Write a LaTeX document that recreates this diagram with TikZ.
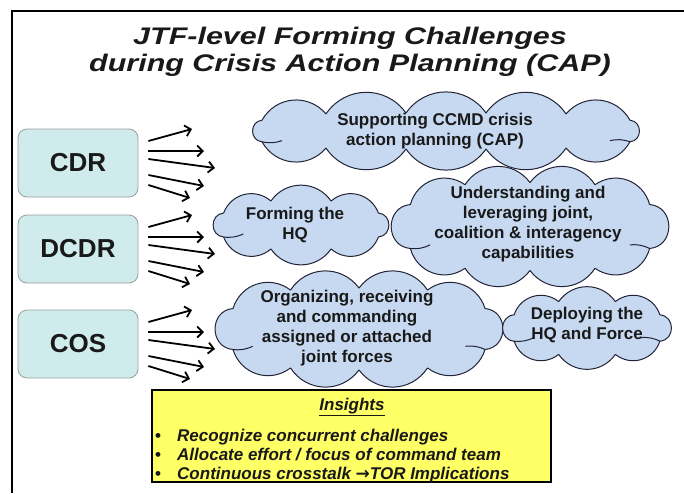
\documentclass[tikz,border=0pt]{standalone}
\usepackage{fontspec}
\setmainfont{Liberation Sans}
\newfontfamily\titlefont{Liberation Sans}[FakeStretch=1.27]
\newfontfamily\arrowfont{DejaVu Sans}
\usetikzlibrary{arrows.meta,calc}
\definecolor{boxteal}{RGB}{208,235,235}
\definecolor{boxedge}{RGB}{150,160,160}
\definecolor{cloudblue}{RGB}{198,217,241}
\definecolor{cloudedge}{RGB}{35,35,55}
\definecolor{insightyellow}{RGB}{255,255,102}
\definecolor{inktext}{RGB}{25,25,25}
% puff junctions: u/v (relative to half track sizes) / bend / looseness of the puff ending there
\def\puffsXII{0.92/-0.6/55/1.1, 0.92/0.6/85/1.5, 0.6/0.95/55/1.1, 0.2/1/55/1.1,
  -0.2/1/55/1.1, -0.6/0.95/55/1.1, -0.92/0.6/55/1.1, -0.92/-0.6/85/1.5,
  -0.6/-0.95/55/1.1, -0.2/-1/55/1.1, 0.2/-1/55/1.1, 0.6/-0.95/55/1.1}
\def\puffsX{0.92/-0.5/55/1.1, 0.92/0.5/85/1.5, 0.5/0.95/55/1.1, 0/1/55/1.1,
  -0.5/0.95/55/1.1, -0.92/0.5/55/1.1, -0.92/-0.5/85/1.5, -0.5/-0.95/55/1.1,
  0/-1/55/1.1, 0.5/-0.95/55/1.1}
\def\puffsVIII{0.9/-0.5/55/1.1, 0.9/0.5/85/1.5, 0.35/1/55/1.1, -0.35/1/55/1.1,
  -0.9/0.5/55/1.1, -0.9/-0.5/85/1.5, -0.35/-1/55/1.1, 0.35/-1/55/1.1}
% #1 name, #2 cx, #3 cy, #4 half track width, #5 half track height, #6 list macro
\newcommand{\puffcloud}[6]{%
  \coordinate (#1-c) at (#2,#3);
  \foreach \u/\v/\bd/\ls [count=\i] in #6 {
    \coordinate (#1-p\i) at ({#2+#4*\u},{#3+#5*\v});
    \xdef\puffcount{\i}
  }
  \draw[cloudline] (#1-p\puffcount)
    \foreach \u/\v/\bd/\ls [count=\i] in #6 { to[bend left=\bd, looseness=\ls] (#1-p\i) }
    -- cycle;
}
\newcommand{\cloudstroke}[2]{%
  \draw[cloudinner] (#1-p#2) to[bend right=15] ($(#1-p#2)!20pt!(#1-c)$);
}
\begin{document}
\begin{tikzpicture}[x=1pt,y=-1pt,
  role/.style={rounded corners=9pt, draw=boxedge, line width=0.8pt, fill=boxteal,
    minimum width=120pt, minimum height=68pt, inner sep=0pt,
    font=\bfseries\fontsize{26}{30}\selectfont, text=inktext},
  fan/.style={line width=1.8pt, -{Straight Barb[length=5.5pt,width=11pt]}},
  cloudline/.style={draw=cloudedge, line width=1pt, fill=cloudblue, line join=round},
  cloudinner/.style={draw=cloudedge, line width=1pt},
  cloudtext/.style={align=center, inner sep=0pt, text=inktext,
    font=\bfseries\fontsize{17}{20}\selectfont},
  titletext/.style={anchor=base, inner sep=0pt, text=inktext,
    font=\titlefont\bfseries\itshape\fontsize{24}{27}\selectfont},
  insightbox/.style={draw=black, line width=1.6pt, fill=insightyellow,
    minimum width=399pt, minimum height=92pt, inner sep=0pt},
  insighttext/.style={inner sep=0pt, text=inktext,
    font=\bfseries\itshape\fontsize{17}{19}\selectfont}
]
\useasboundingbox (0,0) rectangle (684,493);
% frame
\coordinate (fBL) at (12,493);
\coordinate (fTL) at (12,11);
\coordinate (fTR) at (684,11);
\draw[line width=2pt] (fBL) -- (fTL) -- (fTR);

% title
\node[titletext] (title1) at (350,44) {JTF-level Forming Challenges};
\node[titletext] (title2) at (350,71) {during Crisis Action Planning (CAP)};

% role boxes
\node[role] (cdr) at (78,163) {CDR};
\node[role] (dcdr) at (78,249) {DCDR};
\node[role] (cos) at (78,344) {COS};

% fan arrows
\foreach \b in {cdr,dcdr,cos}{
  \foreach \sy/\ex/\ey [count=\i] in {-22/114/-34, -12/126/-12, -4/137/5, 12/126/23, 22/112/35}{
    \coordinate (\b-s\i) at ($(\b.east)+(10,\sy)$);
    \coordinate (\b-e\i) at ($(\b.center)+(\ex,\ey)$);
    \draw[fan] (\b-s\i) -- (\b-e\i);
  }
}

% clouds
\puffcloud{c1}{446}{131}{200}{18}{\puffsXII}
\cloudstroke{c1}{7}\cloudstroke{c1}{2}
\node[cloudtext] (c1t) at (435,131) {Supporting CCMD crisis\\action planning (CAP)};

\puffcloud{c2}{301}{225}{86}{24}{\puffsVIII}
\cloudstroke{c2}{5}
\node[cloudtext] (c2t) at (295,225) {Forming the\\HQ};

\puffcloud{c3}{530}{226.5}{130}{44}{\puffsX}
\cloudstroke{c3}{2}\cloudstroke{c3}{6}
\node[cloudtext] (c3t) at (528,224) {Understanding and\\leveraging joint,\\coalition \& interagency\\capabilities};

\puffcloud{c4}{359}{329}{137}{41}{\puffsX}
\cloudstroke{c4}{2}\cloudstroke{c4}{6}
\node[cloudtext] (c4t) at (347,328) {Organizing, receiving\\and commanding\\assigned or attached\\joint forces};

\puffcloud{c5}{587}{328}{81}{26.4}{\puffsVIII}
\cloudstroke{c5}{2}\cloudstroke{c5}{5}
\node[cloudtext] (c5t) at (587,325) {Deploying the\\HQ and Force};

% insights
\node[insightbox] (ins) at (351.5,436) {};
\node[insighttext] (insh) at (352,407) {\underline{Insights}};
\node[insighttext, anchor=west, align=left] (insl) at (155,456)
  {\makebox[22pt][l]{\upshape\textbullet}Recognize concurrent challenges\\
   \makebox[22pt][l]{\upshape\textbullet}Allocate effort / focus of command team\\
   \makebox[22pt][l]{\upshape\textbullet}Continuous crosstalk {\arrowfont\upshape →}TOR Implications};
\end{tikzpicture}
\end{document}
